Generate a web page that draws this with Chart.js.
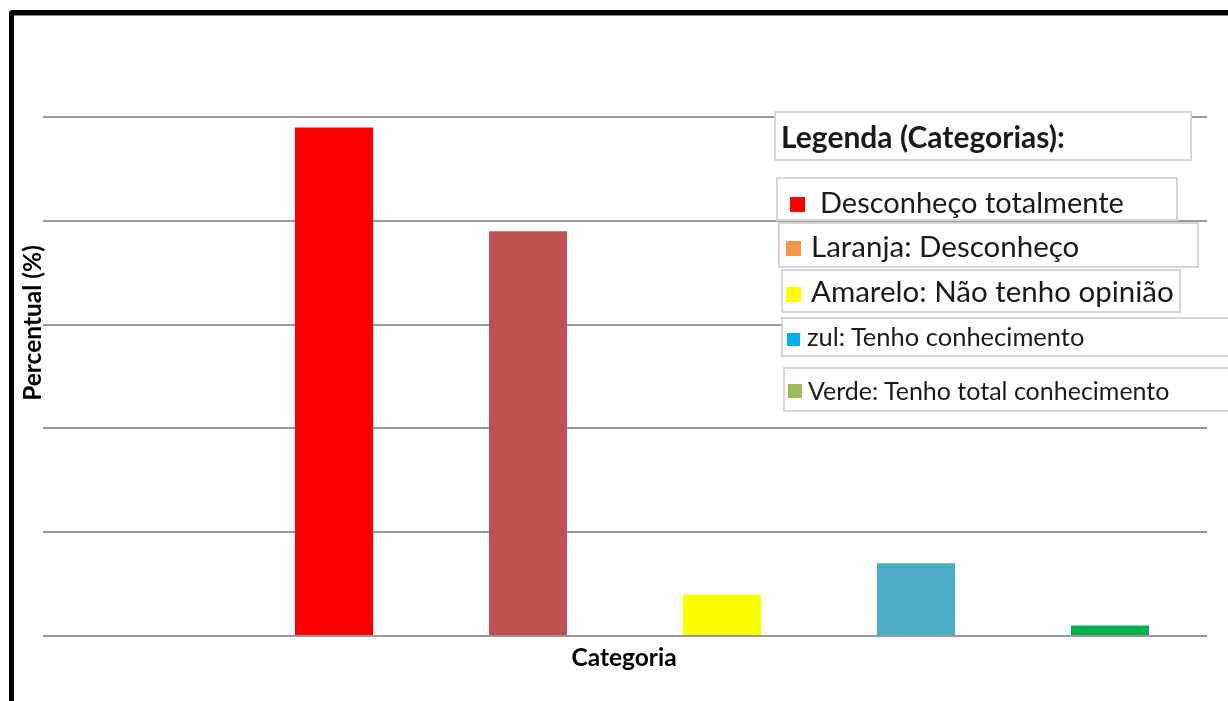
<!DOCTYPE html>
<html>
<head>
<meta charset="utf-8">
<script src="https://cdn.jsdelivr.net/npm/chart.js@4.4.1/dist/chart.umd.min.js"></script>
<style>
  html, body { margin: 0; padding: 0; background: #fff; overflow: hidden; }
  body { width: 1228px; height: 701px; position: relative; font-family: Lato, "Open Sans", sans-serif; }
  #wrap { position: absolute; left: 0; top: 0; width: 1228px; height: 701px; }
  #frame {
    position: absolute; left: 9px; top: 10px; width: 1260px; height: 740px;
    border-left: 5px solid #000; border-top: 5px solid #000; border-top-left-radius: 4px;
    box-shadow: inset 0 1px 0 #888; pointer-events: none;
  }
  .lbox { position: absolute; box-sizing: border-box; border: 2px solid #d6d6d6; background: #fff; }
  .ltxt { position: absolute; line-height: 1; white-space: nowrap; color: #1a1a1a; }
  .lsq { position: absolute; }
</style>
</head>
<body>
<div id="wrap"><canvas id="chart" width="1228" height="701"></canvas></div>
<div id="frame"></div>
<div id="legend"></div>
<script>
// categories (first slot is empty in the original chart)
const categories = ['', 'Desconheço totalmente', 'Desconheço', 'Não tenho opinião', 'Tenho conhecimento', 'Tenho total conhecimento'];
const percentages = [null, 49, 39, 4, 7, 1];
const barColors = ['#ffffff', '#FF0000', '#C0504D', '#FFFF00', '#4BACC6', '#00B050'];
const yMin = 0, yMax = 50, yStep = 10;

const legendTitle = 'Legenda (Categorias):';
const legendLabels = ['Desconheço totalmente', 'Laranja: Desconheço', 'Amarelo: Não tenho opinião', 'zul: Tenho conhecimento', 'Verde: Tenho total conhecimento'];
const legendColors = ['#FF0000', '#F79646', '#FFFF00', '#00B0F0', '#9BBB59'];

// legend boxes layout (pasted-in boxes, slightly misaligned like the original)
const boxLayout = [
  { l: 774, t: 111, w: 418, h: 50, tx: 781, ty: 121, fs: 30, bold: true },
  { l: 776, t: 177, w: 402, h: 44, tx: 820, ty: 187, fs: 29, sq: [790, 197, 15] },
  { l: 778, t: 222, w: 421, h: 46, tx: 811, ty: 231, fs: 29.5, sq: [786, 241, 15] },
  { l: 781, t: 269, w: 400, h: 44, tx: 811, ty: 276, fs: 29.5, sq: [786, 287, 15] },
  { l: 781, t: 317, w: 470, h: 40, tx: 807, ty: 324, fs: 25.5, sq: [787, 333, 13] },
  { l: 783, t: 367, w: 470, h: 45, tx: 808, ty: 378, fs: 25, sq: [788, 384, 14] }
];

const legendEl = document.getElementById('legend');
const texts = [legendTitle].concat(legendLabels);
boxLayout.forEach((b, i) => {
  const box = document.createElement('div');
  box.className = 'lbox';
  box.style.cssText = `left:${b.l}px;top:${b.t}px;width:${b.w}px;height:${b.h}px;`;
  legendEl.appendChild(box);
  if (b.sq) {
    const sq = document.createElement('div');
    sq.className = 'lsq';
    sq.style.cssText = `left:${b.sq[0]}px;top:${b.sq[1]}px;width:${b.sq[2]}px;height:${b.sq[2]}px;background:${legendColors[i - 1]};`;
    legendEl.appendChild(sq);
  }
  const t = document.createElement('div');
  t.className = 'ltxt';
  t.textContent = texts[i];
  t.style.cssText = `left:${b.tx}px;top:${b.ty}px;font-size:${b.fs}px;font-weight:${b.bold ? 700 : 400};`;
  legendEl.appendChild(t);
});

// axis titles drawn at fixed spots like the source image
const axisTitles = {
  id: 'axisTitles',
  afterDraw(chart) {
    const ctx = chart.ctx;
    ctx.save();
    ctx.fillStyle = '#000';
    ctx.font = 'bold 24.5px Lato, "Open Sans", sans-serif';
    ctx.textAlign = 'center';
    ctx.textBaseline = 'middle';
    ctx.fillText('Categoria', 624, 658);
    ctx.translate(33, 323);
    ctx.rotate(-Math.PI / 2);
    ctx.fillText('Percentual (%)', 0, 0);
    ctx.restore();
  }
};

new Chart(document.getElementById('chart').getContext('2d'), {
  type: 'bar',
  data: {
    labels: categories,
    datasets: [{
      label: 'Percentual',
      data: percentages,
      backgroundColor: barColors,
      borderWidth: 0,
      categoryPercentage: 1.0,
      barPercentage: 0.402
    }]
  },
  options: {
    responsive: false,
    animation: false,
    layout: { padding: { left: 43, right: 21, top: 117, bottom: 65 } },
    plugins: {
      legend: { display: false },
      tooltip: { enabled: false }
    },
    scales: {
      x: {
        ticks: { display: false },
        grid: { display: false, drawTicks: false },
        border: { display: false },
        afterFit(scale) { scale.height = 0; }
      },
      y: {
        min: yMin,
        max: yMax,
        ticks: { display: false, stepSize: yStep },
        grid: { color: '#999999', lineWidth: 2, drawTicks: false },
        border: { display: false },
        afterFit(scale) { scale.width = 0; }
      }
    }
  },
  plugins: [axisTitles]
});
</script>
</body>
</html>
